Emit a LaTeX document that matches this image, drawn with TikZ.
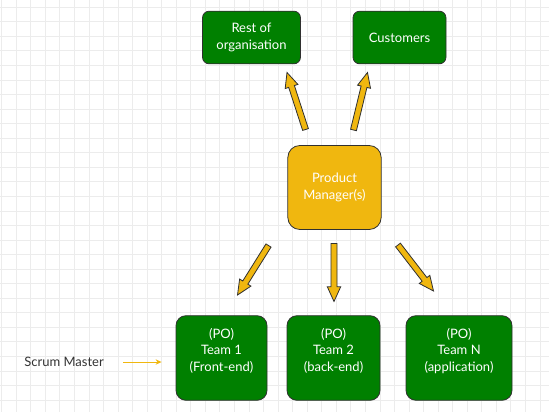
\documentclass[tikz,border=0pt]{standalone}
\usepackage{fontspec}
\setmainfont{Lato}
\usetikzlibrary{calc,arrows.meta}

\definecolor{boxgreen}{RGB}{0,128,0}
\definecolor{pmyellow}{RGB}{240,183,15}
\definecolor{edgegray}{RGB}{48,48,48}
\definecolor{gridgray}{RGB}{236,236,236}
\definecolor{labelgray}{RGB}{51,51,51}

\tikzset{
  boxfont/.style={font=\fontsize{9.75}{12.4}\selectfont},
  greenbox/.style={boxfont, draw=edgegray, fill=boxgreen, text=white, line width=0.6pt,
    align=center, inner sep=0pt},
  pmbox/.style={boxfont, draw=edgegray, fill=pmyellow, text=white, line width=0.6pt,
    align=center, inner sep=0pt, rounded corners=9pt},
  gridline/.style={gridgray, line width=0.75pt},
  blockarrow/.style={draw=edgegray, fill=pmyellow, line width=0.6pt, line join=miter,
    to path={($(\tikztostart)!2.25pt!90:(\tikztotarget)$)
      -- ($(\tikztotarget)!11pt!(\tikztostart)!2.25pt!-90:(\tikztostart)$)
      -- ($(\tikztotarget)!11pt!(\tikztostart)!5pt!-90:(\tikztostart)$)
      -- (\tikztotarget)
      -- ($(\tikztotarget)!11pt!(\tikztostart)!5pt!90:(\tikztostart)$)
      -- ($(\tikztotarget)!11pt!(\tikztostart)!2.25pt!90:(\tikztostart)$)
      -- ($(\tikztostart)!2.25pt!-90:(\tikztotarget)$) -- cycle}},
  smarrow/.style={pmyellow, line width=0.75pt, -{Stealth[length=4.5pt, width=4pt]}},
}

\begin{document}
\begin{tikzpicture}[x=0.75pt, y=-0.75pt]

\useasboundingbox (0,0) rectangle (549,412);
\fill[white] (0,0) rectangle (549,412);

% Grid
\foreach \gx in {0,...,37}
  \draw[gridline] (1.7+14.55*\gx,0) -- (1.7+14.55*\gx,412);
\foreach \gy in {0,...,27}
  \draw[gridline] (0,7.3+14.55*\gy) -- (549,7.3+14.55*\gy);

% Top row
\node[greenbox, rounded corners=5pt, minimum width=73.5pt, minimum height=39.5pt]
  (rest) at (251.5,37.5) {Rest of\\organisation};
\node[greenbox, rounded corners=5pt, minimum width=69.75pt, minimum height=39.5pt]
  (cust) at (399.5,37.5) {Customers};

% Product manager
\node[pmbox, minimum width=70pt, minimum height=63pt]
  (pm) at (334.5,187.5) {Product\\Manager(s)};

% Teams
\node[greenbox, rounded corners=7.5pt, minimum width=68.25pt, minimum height=63.5pt]
  (team1) at (221.5,358) {(PO)\\Team 1\\(Front-end)\\\mbox{}};
\node[greenbox, rounded corners=7.5pt, minimum width=69.75pt, minimum height=63.5pt]
  (team2) at (333.5,358) {(PO)\\Team 2\\(back-end)\\\mbox{}};
\node[greenbox, rounded corners=7.5pt, minimum width=79.5pt, minimum height=63.5pt]
  (teamn) at (459,358) {(PO)\\Team N\\(application)\\\mbox{}};

% Scrum master
\node[boxfont, text=labelgray] (sm) at (64,362) {Scrum Master};

% Arrow ends
\coordinate (pm-ul) at (305.5,129.5);
\coordinate (rest-in) at (287,72.5);
\coordinate (pm-ur) at (353.5,130);
\coordinate (cust-in) at (367.5,72.5);
\coordinate (pm-dl) at (268.5,245.5);
\coordinate (team1-in) at (237.5,295);
\coordinate (pm-d) at (334,243.5);
\coordinate (team2-in) at (334,301.5);
\coordinate (pm-dr) at (398,245);
\coordinate (teamn-in) at (433.5,291);

% Connections
\draw[blockarrow] (pm-ul) to (rest-in);
\draw[blockarrow] (pm-ur) to (cust-in);
\draw[blockarrow] (pm-dl) to (team1-in);
\draw[blockarrow] (pm-d)  to (team2-in);
\draw[blockarrow] (pm-dr) to (teamn-in);

\draw[smarrow] ([xshift=11pt]sm.east) -- ([xshift=-10.5pt]team1.west |- sm.east);

\end{tikzpicture}
\end{document}
